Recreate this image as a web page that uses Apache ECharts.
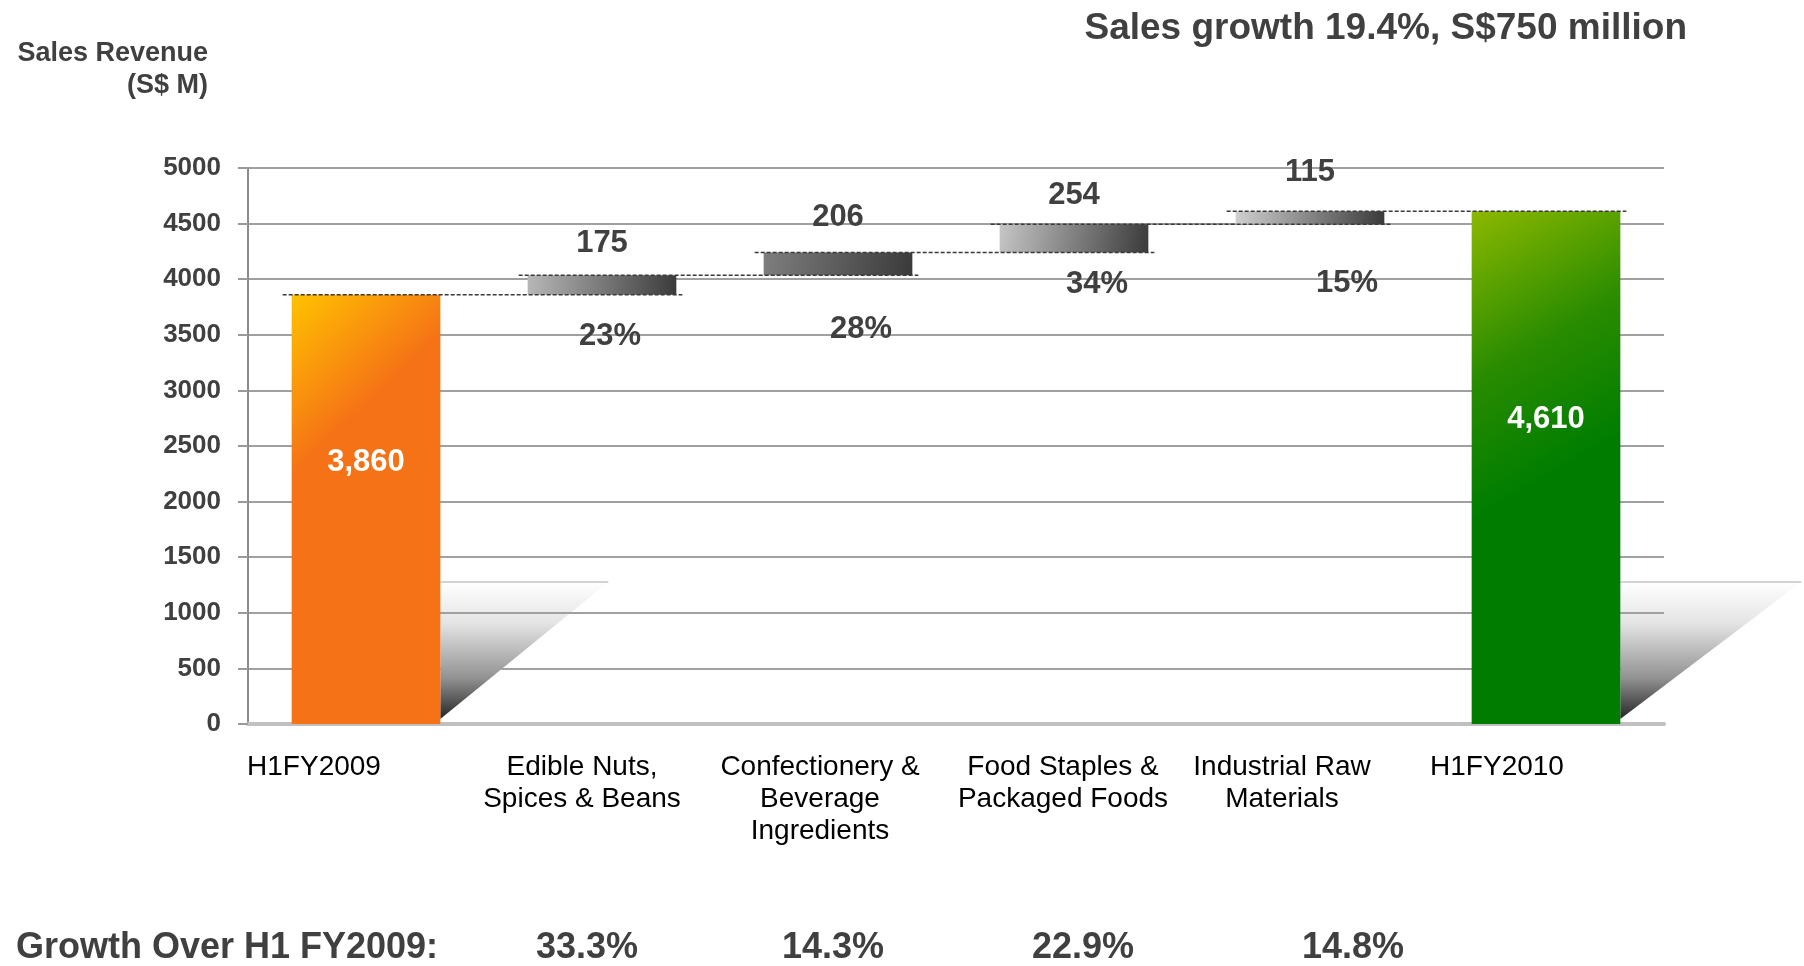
<!DOCTYPE html>
<html>
<head>
<meta charset="utf-8">
<title>Sales Revenue waterfall</title>
<script src="https://cdn.jsdelivr.net/npm/echarts@6/dist/echarts.min.js"></script>
<style>
  html, body { margin: 0; padding: 0; background: #ffffff; }
  #chart { width: 1804px; height: 966px; }
</style>
</head>
<body>
<div id="chart"></div>
<script>
// ---- data ----
const categories = [
  'H1FY2009',
  'Edible Nuts,\nSpices & Beans',
  'Confectionery &\nBeverage\nIngredients',
  'Food Staples &\nPackaged Foods',
  'Industrial Raw\nMaterials',
  'H1FY2010'
];
const startTotal = 3860;                 // H1FY2009 sales (S$ M)
const segmentGains = [175, 206, 254, 115]; // increase per business segment
const endTotal = 4610;                   // H1FY2010 sales (S$ M)
const gainShares = ['23%', '28%', '34%', '15%'];
const growthTitle = 'Growth Over H1 FY2009:';
const growthRates = ['33.3%', '14.3%', '22.9%', '14.8%'];
const headline = 'Sales growth 19.4%, S$750 million';
const yAxisTitle = 'Sales Revenue\n(S$ M)';
const yMin = 0, yMax = 5000, yStep = 500;

// ---- layout tweaks (pixels) ----
const categoryShift = [-52, -20, -18, -11, -28, -49];
const growthShift = [-139, -15, -5, 9, 43, 0];
const gainLabelNudge = [0, -3, 3, -7];
const shareLabelOffset = [[8, 42], [23, 54], [23, 32], [37, 59]];
const totalLabelPos = ['39%', '40.5%'];

const FONT = "'Liberation Sans', Arial, Helvetica, sans-serif";
const TEXT = '#404040';
const BAR_RATIO = 0.63;

// running levels of the waterfall
const levels = [startTotal];
segmentGains.forEach(g => levels.push(levels[levels.length - 1] + g));

const baseValues = [0].concat(levels.slice(0, segmentGains.length), [0]);
const barValues = [startTotal].concat(segmentGains, [endTotal]);

function shiftPadding(dx) {
  return dx < 0 ? [0, -2 * dx, 0, 0] : [0, 0, 0, 2 * dx];
}

const LG = echarts.graphic.LinearGradient;
const orangeFill = new LG(0, 0, 0.6, 0.22, [
  { offset: 0, color: '#ffc200' },
  { offset: 1, color: '#f57316' }
]);
const greenFill = new LG(0, 0, 0.9, 0.45, [
  { offset: 0, color: '#8cb800' },
  { offset: 0.55, color: '#2a8c00' },
  { offset: 1, color: '#007d00' }
]);
const grayLefts = ['#b8b8b8', '#7e7e7e', '#c6c6c6', '#d0d0d0'];
function grayFill(i) {
  return new LG(0, 0, 1, 1, [
    { offset: 0, color: grayLefts[i] },
    { offset: 1, color: '#3a3a3a' }
  ]);
}

const totalLabel = pos => ({
  show: true,
  position: ['50%', pos],
  align: 'center',
  verticalAlign: 'middle',
  color: '#ffffff',
  fontSize: 31,
  fontWeight: 'bold',
  fontFamily: FONT,
  formatter: p => p.value.toLocaleString('en-US')
});

const barData = barValues.map((v, i) => {
  if (i === 0) return { value: v, itemStyle: { color: orangeFill }, label: totalLabel(totalLabelPos[0]) };
  if (i === barValues.length - 1) return { value: v, itemStyle: { color: greenFill }, label: totalLabel(totalLabelPos[1]) };
  return {
    value: v,
    itemStyle: { color: grayFill(i - 1) },
    label: {
      show: true, position: 'top', distance: 16,
      offset: [0, gainLabelNudge[i - 1]],
      color: TEXT, fontSize: 31, fontWeight: 'bold', fontFamily: FONT
    }
  };
});

const baseData = baseValues.map((v, i) => {
  const k = i - 1;
  if (k < 0 || k >= gainShares.length) return { value: v, label: { show: false } };
  return {
    value: v,
    label: {
      show: true,
      position: ['50%', 0],
      align: 'center',
      verticalAlign: 'middle',
      offset: shareLabelOffset[k],
      formatter: () => gainShares[k],
      color: TEXT, fontSize: 31, fontWeight: 'bold', fontFamily: FONT
    }
  };
});

// dashed connector at each running level
const connectorData = levels.map((lv, k) => [k, lv]);
function renderConnector(params, api) {
  const k = api.value(0);
  const lv = api.value(1);
  const a = api.coord([k, lv]);
  const b = api.coord([k + 1, lv]);
  const half = api.size([1, 0])[0] * BAR_RATIO / 2;
  return {
    type: 'line',
    shape: { x1: a[0] - half - 9, y1: a[1], x2: b[0] + half + 6, y2: a[1] },
    style: { stroke: '#3a3a3a', lineWidth: 1.5, lineDash: [4, 2] }
  };
}

// cast shadow beside the two total bars
const shadowData = [[0, 0], [categories.length - 1, 0]];
function renderShadow(params, api) {
  const k = api.value(0);
  const p = api.coord([k, 0]);
  const half = api.size([1, 0])[0] * BAR_RATIO / 2;
  const x0 = p[0] + half;
  const yb = p[1];
  const top = yb - 142;
  const w = k === 0 ? 168 : 181;
  return {
    type: 'group',
    children: [
      {
        type: 'polygon',
        shape: { points: [[x0, top], [x0 + w, top], [x0, yb - 5]] },
        style: {
          fill: new LG(0, 0, 0, 1, [
            { offset: 0, color: '#ffffff' },
            { offset: 0.3, color: '#e4e4e4' },
            { offset: 0.7, color: '#929292' },
            { offset: 1, color: '#262626' }
          ])
        }
      },
      {
        type: 'line',
        shape: { x1: x0, y1: top, x2: x0 + w, y2: top },
        style: { stroke: '#c4c4c4', lineWidth: 1.5 }
      }
    ]
  };
}

const chart = echarts.init(document.getElementById('chart'), null, { renderer: 'canvas' });
chart.setOption({
  animation: false,
  backgroundColor: '#ffffff',
  title: {
    text: headline,
    right: 112,
    top: 5,
    textStyle: { fontFamily: FONT, fontSize: 37, fontWeight: 'bold', color: TEXT }
  },
  grid: { left: 248, right: 140, top: 168, bottom: 234 },
  xAxis: [
    {
      type: 'category',
      data: categories.map((c, i) => ({ value: c, textStyle: { padding: shiftPadding(categoryShift[i]) } })),
      axisLine: { show: true, lineStyle: { color: '#c0c0c0', width: 4 } },
      axisTick: { show: false },
      axisLabel: {
        interval: 0,
        margin: 27,
        fontFamily: FONT,
        fontSize: 28,
        lineHeight: 32,
        color: '#000000'
      },
      splitLine: { show: false }
    },
    {
      type: 'category',
      position: 'bottom',
      data: [growthTitle].concat(growthRates, ['']).map((c, i) => ({ value: c, textStyle: { padding: shiftPadding(growthShift[i]) } })),
      axisLine: { show: false },
      axisTick: { show: false },
      axisLabel: {
        interval: 0,
        margin: 206,
        fontFamily: FONT,
        fontSize: 36,
        fontWeight: 'bold',
        color: TEXT
      },
      splitLine: { show: false }
    }
  ],
  yAxis: {
    type: 'value',
    min: yMin,
    max: yMax,
    interval: yStep,
    name: yAxisTitle,
    nameLocation: 'end',
    nameGap: 66,
    nameTextStyle: {
      align: 'right',
      verticalAlign: 'bottom',
      padding: [0, 40, 0, 0],
      fontFamily: FONT,
      fontSize: 27,
      fontWeight: 'bold',
      lineHeight: 32,
      color: TEXT
    },
    axisLine: { show: true, lineStyle: { color: '#8c8c8c', width: 2 } },
    axisTick: { show: true, length: 10, lineStyle: { color: '#9a9a9a', width: 2 } },
    axisLabel: {
      margin: 27,
      fontFamily: FONT,
      fontSize: 26,
      fontWeight: 'bold',
      color: TEXT,
      formatter: v => String(v)
    },
    splitLine: { show: true, lineStyle: { color: '#a0a0a0', width: 2 } }
  },
  series: [
    {
      type: 'custom',
      name: 'shadow',
      z: -1,
      silent: true,
      renderItem: renderShadow,
      data: shadowData
    },
    {
      type: 'bar',
      name: 'base',
      stack: 'waterfall',
      barWidth: (BAR_RATIO * 100) + '%',
      itemStyle: { color: 'rgba(0,0,0,0)' },
      emphasis: { disabled: true },
      silent: true,
      data: baseData
    },
    {
      type: 'bar',
      name: 'sales',
      stack: 'waterfall',
      barWidth: (BAR_RATIO * 100) + '%',
      emphasis: { disabled: true },
      data: barData
    },
    {
      type: 'custom',
      name: 'connector',
      z: 5,
      silent: true,
      renderItem: renderConnector,
      data: connectorData
    }
  ]
});
</script>
</body>
</html>
